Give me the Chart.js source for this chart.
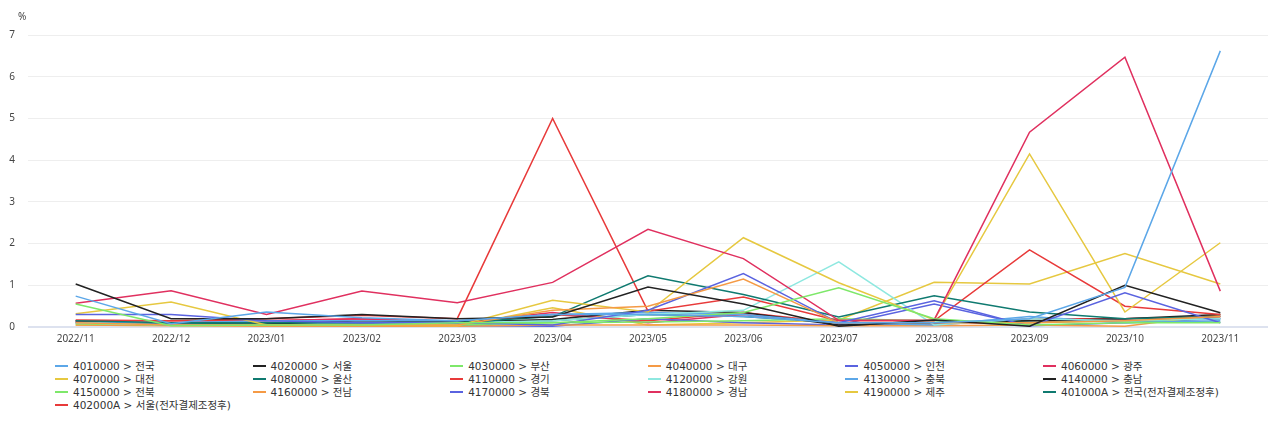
<!DOCTYPE html>
<html>
<head>
<meta charset="utf-8">
<script src="https://cdn.jsdelivr.net/npm/chart.js@4"></script>
<style>
    html, body { margin: 0; padding: 0; background: #ffffff; }
    body { width: 1280px; height: 435px; position: relative; overflow: hidden;
           font-family: "DejaVu Sans", "Noto Sans CJK KR", sans-serif; }
    #wrap { position: absolute; left: 0; top: 0; width: 1280px; height: 355px; }
    #legend { position: absolute; left: 55px; top: 359px; display: grid;
              grid-template-columns: repeat(6, 197.6px); row-gap: 0; }
    .item { display: flex; align-items: center; height: 13px; font-size: 10.5px; color: #333; white-space: nowrap; }
    .mark { display: inline-block; width: 13px; height: 2px; margin-right: 5px; }
</style>
</head>
<body>
<div id="wrap"><canvas id="chart"></canvas></div>
<div id="legend"></div>
<script>
const months = ['2022/11', '2022/12', '2023/01', '2023/02', '2023/03', '2023/04', '2023/05',
    '2023/06', '2023/07', '2023/08', '2023/09', '2023/10', '2023/11'];

const seriesNames = [
    '4010000 > 전국', '4020000 > 서울', '4030000 > 부산', '4040000 > 대구', '4050000 > 인천', '4060000 > 광주',
    '4070000 > 대전', '4080000 > 울산', '4110000 > 경기', '4120000 > 강원', '4130000 > 충북', '4140000 > 충남',
    '4150000 > 전북', '4160000 > 전남', '4170000 > 경북', '4180000 > 경남', '4190000 > 제주', '401000A > 전국(전자결제조정후)',
    '402000A > 서울(전자결제조정후)',
];

// one row per series, same order as seriesNames (values in %)
const s4010000 = [0.74, 0.08, 0.36, 0.22, 0.15, 0.30, 0.30, 0.25, 0.10, 0.10, 0.20, 0.95, 6.62];
const s4020000 = [1.03, 0.20, 0.20, 0.30, 0.20, 0.24, 0.96, 0.55, 0.02, 0.17, 0.02, 1.00, 0.34];
const s4030000 = [0.55, 0.03, 0.05, 0.05, 0.10, 0.10, 0.20, 0.35, 0.94, 0.20, 0.05, 0.10, 0.10];
const s4040000 = [0.10, 0.05, 0.05, 0.05, 0.05, 0.40, 0.50, 1.15, 0.10, 0.10, 0.10, 0.15, 0.25];
const s4050000 = [0.30, 0.30, 0.15, 0.10, 0.10, 0.05, 0.40, 1.28, 0.10, 0.63, 0.02, 0.82, 0.10];
const s4060000 = [0.57, 0.87, 0.30, 0.86, 0.58, 1.07, 2.34, 1.64, 0.16, 0.17, 4.67, 6.47, 0.86];
const s4070000 = [0.32, 0.60, 0.05, 0.05, 0.03, 0.64, 0.36, 2.14, 1.06, 0.17, 4.15, 0.36, 2.02];
const s4080000 = [0.15, 0.10, 0.10, 0.10, 0.10, 0.25, 1.23, 0.78, 0.24, 0.75, 0.36, 0.20, 0.25];
const s4110000 = [0.15, 0.15, 0.20, 0.28, 0.20, 5.00, 0.38, 0.72, 0.15, 0.15, 1.85, 0.50, 0.30];
const s4120000 = [0.10, 0.05, 0.05, 0.05, 0.10, 0.15, 0.30, 0.40, 1.56, 0.05, 0.20, 0.15, 0.20];
const s4130000 = [0.10, 0.10, 0.15, 0.15, 0.15, 0.30, 0.35, 0.30, 0.10, 0.05, 0.25, 0.10, 0.15];
const s4140000 = [0.15, 0.05, 0.07, 0.15, 0.12, 0.18, 0.40, 0.35, 0.05, 0.10, 0.15, 0.20, 0.30];
const s4150000 = [0.08, 0.05, 0.05, 0.05, 0.05, 0.10, 0.12, 0.15, 0.20, 0.15, 0.10, 0.15, 0.12];
const s4160000 = [0.05, 0.03, 0.02, 0.02, 0.02, 0.05, 0.05, 0.05, 0.03, 0.03, 0.05, 0.02, 0.30];
const s4170000 = [0.12, 0.05, 0.05, 0.05, 0.03, 0.02, 0.20, 0.10, 0.05, 0.55, 0.03, 0.10, 0.20];
const s4180000 = [0.12, 0.10, 0.15, 0.20, 0.10, 0.35, 0.10, 0.30, 0.10, 0.10, 0.10, 0.20, 0.25];
const s4190000 = [0.05, 0.05, 0.03, 0.02, 0.02, 0.46, 0.05, 0.10, 0.17, 1.07, 1.03, 1.76, 1.03];
const s401000A = [0.10, 0.08, 0.10, 0.10, 0.12, 0.15, 0.30, 0.25, 0.10, 0.10, 0.15, 0.15, 0.20];
const s402000A = [0.17, 0.15, 0.15, 0.20, 0.12, 0.30, 0.15, 0.35, 0.10, 0.05, 0.20, 0.20, 0.25];

const seriesValues = [s4010000, s4020000, s4030000, s4040000, s4050000, s4060000, s4070000, s4080000,
    s4110000, s4120000, s4130000, s4140000, s4150000, s4160000, s4170000, s4180000, s4190000, s401000A, s402000A];

// palette of 10 that repeats across the series
const palette = ['#5ca7e8', '#222222', '#7ee86a', '#f59a45', '#5a63e0', '#e0305f',
    '#e6c840', '#0f7a70', '#e83a3a', '#8ee8e0'];

const yTicks = [0, 1, 2, 3, 4, 5, 6, 7];

const datasets = seriesNames.map((name, i) => ({
    label: name,
    data: seriesValues[i],
    borderColor: palette[i % palette.length],
    backgroundColor: palette[i % palette.length],
    borderWidth: 1.5,
    pointRadius: 0,
    pointHoverRadius: 0,
    tension: 0,
    fill: false,
}));

// draws the "%" unit above the y axis
const unitLabel = {
    id: 'unitLabel',
    afterDraw(chart) {
        const ctx = chart.ctx;
        ctx.save();
        ctx.font = '10px "Noto Sans", sans-serif';
        ctx.fillStyle = '#444';
        ctx.textAlign = 'left';
        ctx.textBaseline = 'middle';
        ctx.fillText('%', 18, 17);
        ctx.restore();
    },
};

const chart = new Chart(document.getElementById('chart'), {
    type: 'line',
    data: { labels: months, datasets },
    options: {
        responsive: true,
        maintainAspectRatio: false,
        animation: false,
        layout: { padding: { top: 35, right: 12, bottom: 4, left: 0 } },
        scales: {
            x: {
                offset: true,
                grid: { display: false, drawTicks: false },
                border: { display: false },
                ticks: {
                    color: '#444',
                    font: { size: 10, family: '"Noto Sans", sans-serif' },
                    padding: 6,
                    maxRotation: 0,
                    autoSkip: false,
                },
            },
            y: {
                min: 0,
                max: 7,
                afterBuildTicks: (scale) => { scale.ticks = yTicks.map((v) => ({ value: v })); },
                afterFit: (scale) => { scale.width = 28; },
                border: { display: false },
                grid: {
                    drawTicks: false,
                    color: (c) => (c.tick && c.tick.value === 0 ? '#dde2ef' : '#eeeeee'),
                    lineWidth: (c) => (c.tick && c.tick.value === 0 ? 2 : 1),
                },
                ticks: {
                    color: '#444',
                    font: { size: 10, family: '"Noto Sans", sans-serif' },
                    padding: 13,
                },
            },
        },
        plugins: {
            legend: { display: false },
            tooltip: { enabled: false },
        },
    },
    plugins: [unitLabel],
});

// html legend in a fixed 6-column grid, built from the chart's datasets
const legendEl = document.getElementById('legend');
chart.data.datasets.forEach((ds) => {
    const item = document.createElement('div');
    item.className = 'item';
    const mark = document.createElement('span');
    mark.className = 'mark';
    mark.style.background = ds.borderColor;
    item.appendChild(mark);
    item.appendChild(document.createTextNode(ds.label));
    legendEl.appendChild(item);
});
</script>
</body>
</html>
